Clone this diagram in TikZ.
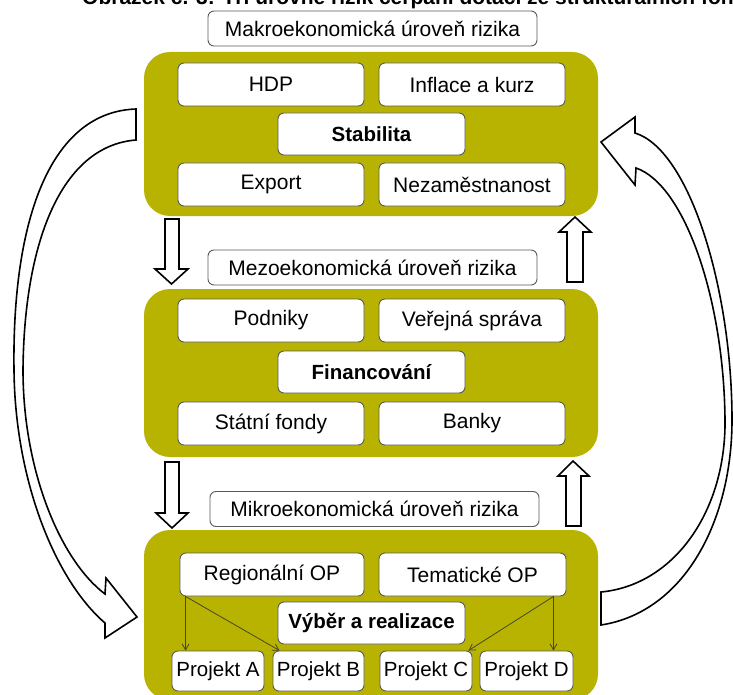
\documentclass[tikz,border=0pt]{standalone}
\usepackage{fontspec}
\setmainfont{Liberation Sans}
\usetikzlibrary{calc,arrows.meta}
\definecolor{panelgreen}{RGB}{183,179,0}
\definecolor{boxgray}{RGB}{90,90,90}
\definecolor{thinarrow}{RGB}{70,70,40}
\begin{document}
\begin{tikzpicture}[x=1pt,y=-1pt,
  panel/.style={fill=panelgreen,draw=none,rounded corners=26pt},
  wbox/.style={draw=boxgray,fill=white,rounded corners=6pt,line width=0.9pt,inner sep=0pt,
    minimum width=186pt,minimum height=43pt,font=\fontsize{21}{24}\selectfont},
  midbox/.style={wbox,minimum width=187pt,minimum height=42pt,font=\fontsize{20.5}{24}\selectfont\bfseries},
  projbox/.style={wbox,minimum width=92pt,minimum height=40pt,font=\fontsize{20.5}{24}\selectfont},
  lvlbox/.style={wbox,minimum width=329pt,minimum height=35pt,font=\fontsize{21}{24}\selectfont},
  blockarrow/.style={draw=black,fill=white,line width=1.6pt,line join=miter},
  thin/.style={draw=thinarrow,line width=0.8pt,-{Straight Barb[length=6pt,width=7pt]}}
]
\clip (0,0) rectangle (733,695);

% title (cut off at the top)
\node[anchor=base west,inner sep=0pt,font=\fontsize{21}{24}\selectfont\bfseries] (title) at (82,5)
  {Obrázek č. 3: Tři úrovně rizik čerpání dotací ze strukturálních fondů};

% panels
\fill[panel] (144,52) rectangle (598,216);
\fill[panel] (144,289) rectangle (598,457);
\fill[panel] (144,530) rectangle (598,700);

% level labels
\node[lvlbox] (makro) at (372.5,28.5) {Makroekonomická úroveň rizika};
\node[lvlbox] (mezo) at (372.5,267.5) {Mezoekonomická úroveň rizika};
\node[lvlbox] (mikro) at (374.5,509) {Mikroekonomická úroveň rizika};

% top panel
\node[wbox] (hdp) at (271,84.5) {HDP};
\node[wbox] (infl) at (472,84.5) {Inflace a kurz};
\node[midbox] (stab) at (371.5,134) {Stabilita};
\node[wbox] (exp) at (271,184.5) {Export};
\node[wbox] (nez) at (472,184.5) {Nezaměstnanost};

% middle panel
\node[wbox] (podn) at (271,320.5) {Podniky};
\node[wbox] (verej) at (472,320.5) {Veřejná správa};
\node[midbox] (fin) at (371.5,372) {Financování};
\node[wbox] (stat) at (271,423.5) {Státní fondy};
\node[wbox] (bank) at (472,423.5) {Banky};

% bottom panel
\node[wbox,minimum width=184pt] (reg) at (272,574.5) {Regionální OP};
\node[wbox,minimum width=187pt] (tem) at (472.5,574.5) {Tematické OP};
\node[midbox] (vyber) at (371.5,623) {Výběr a realizace};
\node[projbox] (pa) at (218,671) {Projekt A};
\node[projbox,minimum width=91pt] (pb) at (318.5,671) {Projekt B};
\node[projbox] (pc) at (426,671) {Projekt C};
\node[projbox,minimum width=93pt] (pd) at (526.5,671) {Projekt D};

% thin arrows
\coordinate (rs) at ($(reg.south west)+(6,0)$);
\coordinate (ts) at ($(tem.south east)+(-13,0)$);
\draw[thin] (rs) -- (rs |- pa.north);
\draw[thin] (rs) -- ($(pb.north west)+(7,0)$);
\draw[thin] (ts) -- (ts |- pd.north);
\draw[thin] (ts) -- ($(pc.north east)+(-4,0)$);

% straight block arrows
\draw[blockarrow] (165,219) -- (179,219) -- (179,269) -- (188,269) -- (171.5,284) -- (155,269) -- (165,269) -- cycle;
\draw[blockarrow] (165,462) -- (179,462) -- (179,513) -- (188,513) -- (172,528) -- (156,513) -- (165,513) -- cycle;
\draw[blockarrow] (567,282) -- (583,282) -- (583,232) -- (591,232) -- (575,217) -- (559,232) -- (567,232) -- cycle;
\draw[blockarrow] (566,526) -- (581,526) -- (581,476) -- (589,476) -- (573,461) -- (558,476) -- (566,476) -- cycle;

% curved block arrows
\draw[blockarrow] (136,109) .. controls (50,112) and (12,220) .. (14,370)
  .. controls (15,480) and (55,580) .. (105,623)
  -- (105,638) -- (137,617) -- (106,578) -- (105,594)
  .. controls (60,560) and (23,470) .. (23,370)
  .. controls (24,245) and (60,146) .. (136,140) -- cycle;
\draw[blockarrow] (601,625) .. controls (685,612) and (732,520) .. (732,420)
  .. controls (732,290) and (690,150) .. (635,133)
  -- (635,117) -- (601,142) -- (635,185) -- (636,168)
  .. controls (685,185) and (724,300) .. (725,420)
  .. controls (726,510) and (675,585) .. (601,592) -- cycle;
\end{tikzpicture}
\end{document}
